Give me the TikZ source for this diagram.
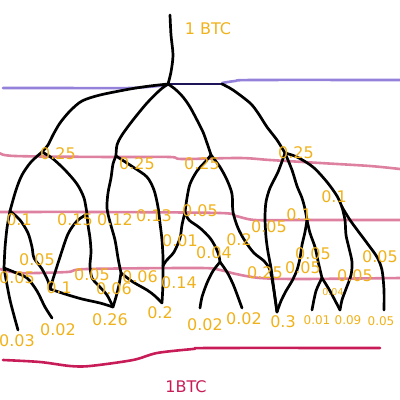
\documentclass[tikz,border=0pt]{standalone}
\usepackage{fontspec}
\setmainfont{DejaVu Sans}
\definecolor{lbl}{RGB}{240,178,28}
\definecolor{pinkl}{RGB}{222,128,160}
\definecolor{lav}{RGB}{148,130,218}
\definecolor{crim}{RGB}{200,28,88}
\definecolor{navy}{RGB}{30,20,90}
\tikzset{
  branch/.style={line width=2.7pt, line cap=round, line join=round, black},
  band/.style={line width=2.6pt, line cap=round, line join=round},
  val/.style={text=lbl, inner sep=0pt, font=\fontsize{16}{18}\selectfont},
  sval/.style={text=lbl, inner sep=0pt, font=\fontsize{12}{14}\selectfont},
  tval/.style={text=lbl, inner sep=0pt, font=\fontsize{9.5}{11}\selectfont},
}
\begin{document}
\begin{tikzpicture}[x=1pt,y=-1pt]
\useasboundingbox (0,0) rectangle (400,400);
% junctions
\coordinate (top) at (170,15);
\coordinate (R) at (168,84);
\coordinate (R2) at (222,84);
\coordinate (A) at (42,152);
\coordinate (A1) at (10,211);
\coordinate (A2) at (87,214);
\coordinate (A1s) at (4,268);
\coordinate (L03) at (18,330);
\coordinate (L02) at (52,318);
\coordinate (N1) at (50,289);
\coordinate (P) at (113,307);
\coordinate (B) at (116,156);
\coordinate (N2) at (121,273);
\coordinate (M) at (163,266);
\coordinate (D0) at (162,303);
\coordinate (C) at (211,155);
\coordinate (C1) at (185,212);
\coordinate (E) at (220,262);
\coordinate (E1) at (200,308);
\coordinate (E2) at (242,308);
\coordinate (D) at (285,153);
\coordinate (F) at (277,312);
\coordinate (G) at (307,220);
\coordinate (K) at (322,278);
\coordinate (K1) at (312,310);
\coordinate (Q) at (340,310);
\coordinate (H) at (342,207);
\coordinate (Z) at (384,310);

% level lines
\draw[band, lav] plot[smooth] coordinates {(3,88) (60,88) (130,88) (168,85)};
\draw[band, lav] plot[smooth] coordinates {(222,83) (235,81) (253,80) (400,80)};
\draw[band, pinkl] plot[smooth] coordinates {(0,153) (15,156) (110,157) (170,157) (182,159) (240,158) (270,160) (320,163) (370,166) (400,169)};
\draw[band, pinkl] plot[smooth] coordinates {(0,212) (100,212) (220,213) (236,216) (255,220) (300,220) (400,220)};
\draw[band, pinkl] plot[smooth] coordinates {(0,269) (20,273) (67,272) (87,269) (200,268) (220,270) (236,274) (260,278) (300,279) (400,278)};
\draw[band, crim] plot[smooth] coordinates {(3,360) (40,362) (70,366) (90,366) (133,360) (157,353) (193,349) (210,348) (380,348)};

% branches
\draw[branch] plot[smooth] coordinates {(top) (171,35) (173,55) (171,72) (R)};
\draw[branch, navy] (R) -- (R2);
\draw[branch] plot[smooth] coordinates {(R) (150,86) (130,89) (100,95) (82,101) (70,111) (60,123) (53,135) (48,145) (A)};
\draw[branch] plot[smooth] coordinates {(R) (160,90) (147,103) (133,120) (122,135) (117,145) (B)};
\draw[branch] plot[smooth] coordinates {(R) (175,89) (183,97) (190,107) (197,120) (203,132) (207,143) (C)};
\draw[branch] plot[smooth] coordinates {(R2) (233,90) (250,103) (258,113) (267,127) (277,140) (D)};
\draw[branch] plot[smooth] coordinates {(A) (31,162) (22,175) (16,190) (A1)};
\draw[branch] plot[smooth] coordinates {(A) (52,158) (65,170) (77,184) (84,198) (A2)};
\draw[branch] plot[smooth] coordinates {(A1) (7,228) (5,248) (A1s)};
\draw[branch] plot[smooth] coordinates {(A1s) (10,300) (L03)};
\draw[branch] plot[smooth] coordinates {(A1s) (14,272) (27,278) (37,291) (45,307) (L02)};
\draw[branch] plot[smooth] coordinates {(A1) (20,220) (28,233) (32,247) (34,258) (42,269) (48,281) (N1)};
\draw[branch] plot[smooth] coordinates {(A2) (77,221) (68,234) (60,257) (53,279) (N1)};
\draw[branch] plot[smooth] coordinates {(N1) (65,294) (82,299) (100,303) (P)};
\draw[branch] plot[smooth] coordinates {(A2) (88,225) (90,238) (91,252) (90,266) (92,278) (98,285) (107,295) (P)};
\draw[branch] plot[smooth] coordinates {(B) (113,164) (111,178) (108,193) (107,208) (110,222) (115,240) (118,258) (N2)};
\draw[branch] plot[smooth] coordinates {(N2) (119,285) (116,297) (P)};
\draw[branch] plot[smooth] coordinates {(N2) (133,282) (147,290) (155,296) (D0)};
\draw[branch] plot[smooth] coordinates {(B) (133,167) (147,177) (154,190) (158,207) (160,223) (162,240) (163,257) (M)};
\draw[branch] plot[smooth] coordinates {(M) (163,283) (D0)};
\draw[branch] plot[smooth] coordinates {(C) (206,161) (197,171) (190,184) (187,198) (C1)};
\draw[branch] plot[smooth] coordinates {(C1) (182,225) (180,238) (174,252) (166,261) (M)};
\draw[branch] plot[smooth] coordinates {(C1) (189,220) (200,228) (210,238) (216,248) (219,256) (E)};
\draw[branch] plot[smooth] coordinates {(E) (213,271) (207,283) (202,297) (E1)};
\draw[branch] plot[smooth] coordinates {(E) (227,272) (233,284) (238,297) (E2)};
\draw[branch] plot[smooth] coordinates {(C) (220,167) (227,180) (232,194) (233,212) (238,228) (245,241) (254,253) (264,261) (270,270) (273,285) (275,298) (F)};
\draw[branch] plot[smooth] coordinates {(D) (278,172) (270,188) (266,202) (265,218) (266,237) (268,252) (271,268) (274,290) (F)};
\draw[branch] plot[smooth] coordinates {(D) (292,170) (297,186) (302,198) (305,209) (G)};
\draw[branch] plot[smooth] coordinates {(G) (305,232) (302,245) (300,258) (297,270) (292,281) (286,291) (281,301) (F)};
\draw[branch] plot[smooth] coordinates {(G) (310,233) (315,247) (318,261) (K)};
\draw[branch] plot[smooth] coordinates {(K) (316,291) (K1)};
\draw[branch] plot[smooth] coordinates {(K) (330,291) (Q)};
\draw[branch] plot[smooth] coordinates {(D) (297,157) (313,167) (327,182) (337,196) (H)};
\draw[branch] plot[smooth] coordinates {(H) (345,220) (346,235) (349,248) (352,262) (351,275) (346,289) (342,300) (Q)};
\draw[branch] plot[smooth] coordinates {(H) (350,220) (358,231) (367,243) (377,257) (382,270) (384,290) (Z)};

% labels
\node[val] (t1) at (208,29) {1 BTC};
\node[val] (v1) at (58,154) {0.25};
\node[val] (v2) at (137,164) {0.25};
\node[val] (v3) at (202,164) {0.25};
\node[val] (v4) at (296,153) {0.25};
\node[val] (v5) at (19,220) {0.1};
\node[val] (v6) at (75,220) {0.15};
\node[val] (v7) at (115,220) {0.12};
\node[val] (v8) at (154,216) {0.13};
\node[val] (v9) at (200,211) {0.05};
\node[val] (v10) at (180,241) {0.01};
\node[val] (v11) at (214,253) {0.04};
\node[val] (v12) at (239,240) {0.2};
\node[val] (v13) at (269,227) {0.05};
\node[val] (v14) at (299,215) {0.1};
\node[val] (v15) at (334,197) {0.1};
\node[val] (v16) at (37,260) {0.05};
\node[val] (v17) at (17,278) {0.05};
\node[val] (v18) at (59,288) {0.1};
\node[val] (v19) at (92,275) {0.05};
\node[val] (v20) at (140,277) {0.06};
\node[val] (v21) at (114,289) {0.06};
\node[val] (v22) at (179,283) {0.14};
\node[val] (v23) at (265,273) {0.25};
\node[val] (v24) at (303,268) {0.05};
\node[val] (v25) at (313,254) {0.05};
\node[val] (v26) at (380,257) {0.05};
\node[val] (v27) at (355,276) {0.05};
\node[tval] (v28) at (333,292) {0.04};
\node[val] (v29) at (17,341) {0.03};
\node[val] (v30) at (58,330) {0.02};
\node[val] (v31) at (110,320) {0.26};
\node[val] (v32) at (160,313) {0.2};
\node[val] (v33) at (205,325) {0.02};
\node[val] (v34) at (244,319) {0.02};
\node[val] (v35) at (283,322) {0.3};
\node[sval] (v36) at (317,320) {0.01};
\node[sval] (v37) at (348,320) {0.09};
\node[sval] (v38) at (381,321) {0.05};
\node[val, text=crim] (t2) at (186,387) {1BTC};
\end{tikzpicture}
\end{document}
